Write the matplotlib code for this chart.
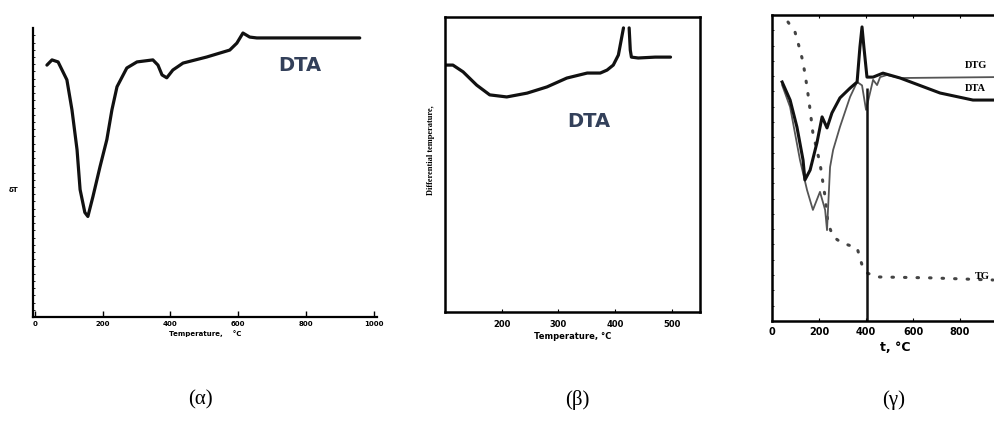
import matplotlib.pyplot as plt
import numpy as np

# (a) DTA curve, temperature in C vs arbitrary deflection
temp_a = [35, 50, 68, 94, 109, 124, 133, 147, 156, 171, 192, 212, 227, 242, 271, 301,
          348, 363, 375, 389, 407, 437, 507, 575, 596, 614, 634, 655, 959]
dta_a = [87.2, 89.0, 88.3, 82.1, 71.7, 57.9, 44.1, 36.2, 34.8, 41.7, 52.1, 61.4, 71.7, 79.7, 86.2, 88.3,
         89.0, 87.2, 83.8, 82.8, 85.5, 87.9, 90.0, 92.4, 94.8, 98.3, 96.9, 96.6, 96.6]
ticks_a = [0, 200, 400, 600, 800, 1000]

# (b) DTA curve, the spike runs off the chart so the pen is lifted (nan)
temp_b = [100, 114, 132, 156, 179, 209, 245, 280, 315, 351, 374, 386, 397, 406, 411, 415,
          420, 425, 427, 429, 441, 471, 498]
dta_b = [83.7, 83.7, 81.4, 76.9, 73.6, 72.9, 74.2, 76.3, 79.3, 81.0, 81.0, 82.0, 83.7, 87.1, 92.2, 96.3,
         np.nan, 96.3, 88.8, 86.4, 86.1, 86.4, 86.4]
ticks_b = [200, 300, 400, 500]

# (c) DTA, DTG and TG
temp_c_dta = [43, 77, 106, 132, 140, 162, 191, 213, 234, 255, 289, 332, 362, 374, 383, 391,
              404, 430, 472, 545, 715, 855, 949]
dta_c = [78.1, 72.2, 63.4, 52.6, 46.1, 49.3, 58.2, 66.7, 63.1, 68.0, 72.9, 76.1, 78.1, 89.5, 96.1, 89.5,
         79.7, 79.7, 81.0, 79.4, 74.5, 72.2, 72.2]
temp_c_dtg = [43, 77, 119, 149, 174, 204, 226, 234, 247, 260, 289, 332, 362, 383, 400,
              430, 447, 460, 489, 545, 949]
dtg_c = [77.1, 69.9, 52.6, 42.8, 36.3, 42.2, 36.3, 29.7, 50.3, 55.9, 63.4, 73.2, 78.1, 77.0, 69.0,
         78.8, 77.1, 79.7, 80.4, 79.4, 79.7]
temp_c_tg = [68, 98, 119, 132, 149, 162, 174, 204, 226, 238, 260, 298, 362, 383, 404, 447, 672, 940]
tg_c = [97.7, 94.4, 88.6, 84.6, 76.5, 69.0, 61.4, 51.6, 40.5, 32.0, 27.5, 25.5, 23.9, 18.3, 15.7, 14.4,
        14.1, 13.4]
ticks_c = [0, 200, 400, 600, 800]

ink = '#111111'
label_col = '#33405a'

fig = plt.figure(figsize=(9.95, 4.28), dpi=100)

# ---- (a)
ax1 = fig.add_axes([0.0332, 0.2593, 0.3457, 0.675])
ax1.plot(temp_a, dta_a, color=ink, lw=2.3, solid_joinstyle='round', solid_capstyle='round')
ax1.set_xlim(-6, 1010)
ax1.set_ylim(0, 100)
ax1.spines['top'].set_visible(False)
ax1.spines['right'].set_visible(False)
ax1.spines['left'].set_linewidth(1.6)
ax1.spines['bottom'].set_linewidth(1.6)
ax1.set_xticks(ticks_a)
ax1.set_xticklabels([str(t) for t in ticks_a], fontsize=5, fontweight='bold')
ax1.set_yticks(np.arange(0, 100, 2.5))
ax1.set_yticklabels([])
ax1.tick_params(axis='x', direction='in', length=4, width=1, pad=3)
ax1.tick_params(axis='y', direction='in', length=1.5, width=0.6)
ax1.set_xlabel('Temperature,    °C', fontsize=5, fontweight='bold', labelpad=2)
ax1.text(-0.055, 0.44, 'δT', transform=ax1.transAxes, fontsize=5, fontweight='bold',
         ha='center', va='center')
ax1.text(0.775, 0.87, 'DTA', transform=ax1.transAxes, fontsize=14, fontweight='bold',
         color=label_col, ha='center', va='center')

# ---- (b)
ax2 = fig.add_axes([0.4472, 0.2710, 0.2563, 0.6893])
ax2.plot(temp_b, dta_b, color=ink, lw=2.3, solid_joinstyle='round', solid_capstyle='round')
ax2.set_xlim(100, 550)
ax2.set_ylim(0, 100)
for s in ax2.spines.values():
    s.set_linewidth(1.8)
ax2.set_xticks(ticks_b)
ax2.set_xticklabels([str(t) for t in ticks_b], fontsize=6, fontweight='bold')
ax2.set_yticks([])
ax2.tick_params(axis='x', direction='in', length=2, width=0.8, pad=6)
ax2.set_xlabel('Temperature, °C', fontsize=6, fontweight='bold', labelpad=2)
ax2.set_ylabel('Differential temperature,', fontsize=6, fontweight='bold',
               family='Liberation Serif', labelpad=4)
ax2.yaxis.set_label_coords(-0.04, 0.55)
ax2.text(0.565, 0.645, 'DTA', transform=ax2.transAxes, fontsize=14, fontweight='bold',
         color=label_col, ha='center', va='center')

# ---- (c), the frame runs past the right edge of the figure
ax3 = fig.add_axes([0.7759, 0.25, 0.2480, 0.715])
ax3.plot(temp_c_tg, tg_c, color='#444444', lw=2.2, linestyle=(0, (0.5, 3.6)),
         dash_capstyle='round')
ax3.plot(temp_c_dtg, dtg_c, color='#555555', lw=1.3, solid_joinstyle='round')
ax3.plot(temp_c_dta, dta_c, color=ink, lw=2.2, solid_joinstyle='round')
ax3.vlines(404, 0, 76, color=ink, lw=1.8)
ax3.set_xlim(0, 1050)
ax3.set_ylim(0, 100)
for s in ax3.spines.values():
    s.set_linewidth(1.8)
ax3.set_xticks(ticks_c)
ax3.set_xticklabels([str(t) for t in ticks_c], fontsize=7, fontweight='bold')
ax3.set_xticks([1000], minor=True)
ax3.set_yticks(np.arange(0, 100, 5))
ax3.set_yticklabels([])
ax3.tick_params(axis='x', which='both', direction='in', length=2, width=0.8, pad=4, top=True)
ax3.tick_params(axis='y', direction='in', length=1.5, width=0.6)
ax3.set_xlabel('t, °C', fontsize=9, fontweight='bold', labelpad=3)
ax3.text(820, 83.5, 'DTG', fontsize=7.5, fontweight='bold', family='Liberation Serif',
         ha='left', va='center')
ax3.text(820, 76, 'DTA', fontsize=7.5, fontweight='bold', family='Liberation Serif',
         ha='left', va='center')
ax3.text(862, 14.5, 'TG', fontsize=7.5, fontweight='bold', family='Liberation Serif',
         ha='left', va='center')

# panel captions
for xc, cap in [(0.201, '(α)'), (0.580, '(β)'), (0.898, '(γ)')]:
    fig.text(xc, 1 - 400 / 428, cap, fontsize=15, family='Liberation Serif',
             ha='center', va='center')

fig.savefig('out.png', dpi=100)
